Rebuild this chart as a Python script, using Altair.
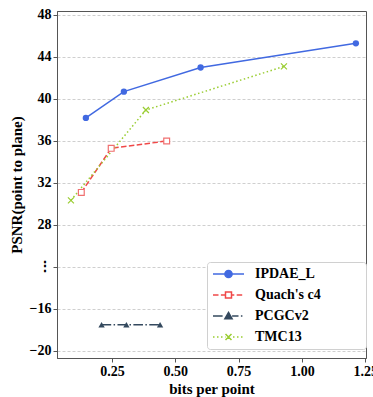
import altair as alt
import pandas as pd

# ---------------- data ----------------
series = ["IPDAE_L", "Quach's c4", "PCGCv2", "TMC13"]

ipdae_x = [0.147, 0.297, 0.600, 1.213]
ipdae_y = [38.2, 40.7, 43.0, 45.3]

quach_x = [0.129, 0.247, 0.466]
quach_y = [31.1, 35.3, 36.0]

pcgc_x = [0.209, 0.307, 0.440]
pcgc_y = [-17.5, -17.5, -17.5]

tmc_x = [0.088, 0.384, 0.929]
tmc_y = [30.35, 38.95, 43.1]

x_tick_values = [0.25, 0.50, 0.75, 1.00, 1.25]
# broken y axis: values below zero are shifted up by BREAK_SHIFT
BREAK_SHIFT = 36
y_tick_values = [16, 20, 24, 28, 32, 36, 40, 44, 48]
y_tick_labels = ["\u221220", "\u221216", "\u22ee", "28", "32", "36", "40", "44", "48"]

# ---------------- styling ----------------
FONT = "Liberation Serif"
colors = ["#4169E1", "#F04848", "#34495E", "#9ACD32"]
marker_stroke = ["#4169E1", "#F07070", "#34495E", "#9ACD32"]
fills = ["#4169E1", "white", "#34495E", "transparent"]
dashes = [None, [5.5, 2.4], [9.6, 2.4, 1.5, 2.4], [1.5, 2.5]]

def shifted(v):
    return v + BREAK_SHIFT if v < 0 else v

rows = []
for name, xs, ys in [
    (series[0], ipdae_x, ipdae_y),
    (series[1], quach_x, quach_y),
    (series[2], pcgc_x, pcgc_y),
    (series[3], tmc_x, tmc_y),
]:
    for i, (a, b) in enumerate(zip(xs, ys)):
        rows.append({"series": name, "bpp": a, "psnr": b, "yplot": shifted(b), "order": i})
df = pd.DataFrame(rows)

label_expr = " : ".join(
    f"datum.value == {v} ? '{t}'" for v, t in zip(y_tick_values, y_tick_labels)
) + " : datum.label"

x_scale = alt.Scale(domain=[0.033, 1.253], nice=False, zero=False)
y_scale = alt.Scale(domain=[15.33, 48.38], nice=False, zero=False)

axis_style = dict(labelFont=FONT, labelFontSize=14, labelFontWeight="bold", labelColor="black",
                  titleFont=FONT, titleFontSize=15, titleFontWeight="bold", titleColor="black",
                  labelFlush=False)

x_enc = alt.X("bpp:Q", scale=x_scale, title="bits per point",
              axis=alt.Axis(values=x_tick_values, format=".2f", grid=False,
                            titlePadding=3, labelPadding=2, **axis_style))
y_enc = alt.Y("yplot:Q", scale=y_scale, title="PSNR(point to plane)",
              axis=alt.Axis(values=y_tick_values, labelExpr=label_expr, grid=True,
                            gridColor="#cfcfcf", gridDash=[3, 2], titlePadding=5,
                            labelPadding=2, **axis_style))

# ---------------- legend symbols (line + marker as SVG paths) ----------------
S = 6.0  # px per path unit for legend symbol size 144
L0, L1 = -1.0, -1.0 + 31.0 / S
MC = (L0 + L1) / 2.0

def segs(pattern, lo, hi, gap_lo, gap_hi):
    out = []
    def add(a, b):
        for (p, q) in [(a, min(b, gap_lo)), (max(a, gap_hi), b)]:
            if q - p > 1e-6:
                out.append(f"M{p:.3f},0L{q:.3f},0")
    if pattern is None:
        add(lo, hi)
    else:
        pos, k, on = lo, 0, True
        while pos < hi:
            ln = pattern[k % len(pattern)] / S
            if on:
                add(pos, min(pos + ln, hi))
            pos += ln
            on = not on
            k += 1
    return "".join(out)

r_c = 3.6 / S
r_s = 3.0 / S
r_t = 3.6 / S
r_x = 3.0 / S
circle = (f"M{MC + r_c:.3f},0A{r_c:.3f},{r_c:.3f} 0 1,1 {MC - r_c:.3f},0"
          f"A{r_c:.3f},{r_c:.3f} 0 1,1 {MC + r_c:.3f},0Z")
square = (f"M{MC - r_s:.3f},{-r_s:.3f}L{MC + r_s:.3f},{-r_s:.3f}L{MC + r_s:.3f},{r_s:.3f}"
          f"L{MC - r_s:.3f},{r_s:.3f}Z")
tri = (f"M{MC:.3f},{-r_t:.3f}L{MC + r_t:.3f},{r_t * 0.75:.3f}L{MC - r_t:.3f},{r_t * 0.75:.3f}Z")
xmark = (f"M{MC - r_x:.3f},{-r_x:.3f}L{MC + r_x:.3f},{r_x:.3f}"
         f"M{MC - r_x:.3f},{r_x:.3f}L{MC + r_x:.3f},{-r_x:.3f}")
legend_paths = [
    segs(dashes[0], L0, L1, MC - r_c, MC + r_c) + circle,
    segs(dashes[1], L0, L1, MC - r_s, MC + r_s) + square,
    segs(dashes[2], L0, L1, MC - r_t, MC + r_t) + tri,
    segs(dashes[3], L0, L1, MC - r_x, MC + r_x) + xmark,
]

PAD = "\u2800" * 4  # invisible, non-whitespace filler to widen the legend box
leg = alt.Legend(
    title=None, orient="none", legendX=150, legendY=251,
    symbolSize=144, symbolStrokeWidth=1.5, symbolOpacity=1,
    labelFont=FONT, labelFontSize=14, labelFontWeight="bold", labelColor="black",
    labelOffset=29, padding=5, rowPadding=7,
    strokeColor="#d0d0d0", fillColor="white", cornerRadius=3,
    labelExpr=f"datum.label + '{PAD}'",
)

# ---------------- layers ----------------
layers = []
for i, name in enumerate(series):
    sub = df[df["series"] == name]
    line_kwargs = dict(color=colors[i], strokeWidth=1.5)
    if dashes[i] is not None:
        line_kwargs["strokeDash"] = dashes[i]
    layers.append(alt.Chart(sub).mark_line(**line_kwargs).encode(
        x=x_enc, y=y_enc, order="order:O"))

point_marks = [
    alt.Chart(df[df["series"] == series[0]]).mark_point(
        shape="circle", filled=True, color=colors[0], size=40, opacity=1),
    alt.Chart(df[df["series"] == series[1]]).mark_point(
        shape="square", fill="white", stroke=marker_stroke[1], strokeWidth=1.2,
        size=34, opacity=1, fillOpacity=1),
    alt.Chart(df[df["series"] == series[2]]).mark_point(
        shape="triangle-up", filled=True, color=colors[2], size=40, opacity=1),
    alt.Chart(df[df["series"] == series[3]]).mark_point(
        shape="M-1,-1L1,1M-1,1L1,-1", stroke=colors[3], strokeWidth=1.2,
        size=36, opacity=1),
]
for pm in point_marks:
    layers.append(pm.encode(x=x_enc, y=y_enc))

legend_layer = alt.Chart(df).mark_point(opacity=0).encode(
    x=x_enc, y=y_enc,
    shape=alt.Shape("series:N", scale=alt.Scale(domain=series, range=legend_paths), legend=leg),
    stroke=alt.Stroke("series:N", scale=alt.Scale(domain=series, range=colors), legend=leg),
    fill=alt.Fill("series:N", scale=alt.Scale(domain=series, range=fills), legend=leg),
)
layers.append(legend_layer)

chart = alt.layer(*layers).properties(
    width=309, height=347,
    autosize=alt.AutoSizeParams(type="none"),
    padding={"left": 57, "top": 11, "right": 7, "bottom": 39},
    background="white",
).configure(
    font=FONT
).configure_view(
    stroke="#555555", strokeWidth=1
).configure_axis(
    domainColor="#555555", tickColor="#555555", tickSize=4, tickWidth=1,
)

chart.save("out.html", embed_options={"renderer": "svg", "actions": False})
